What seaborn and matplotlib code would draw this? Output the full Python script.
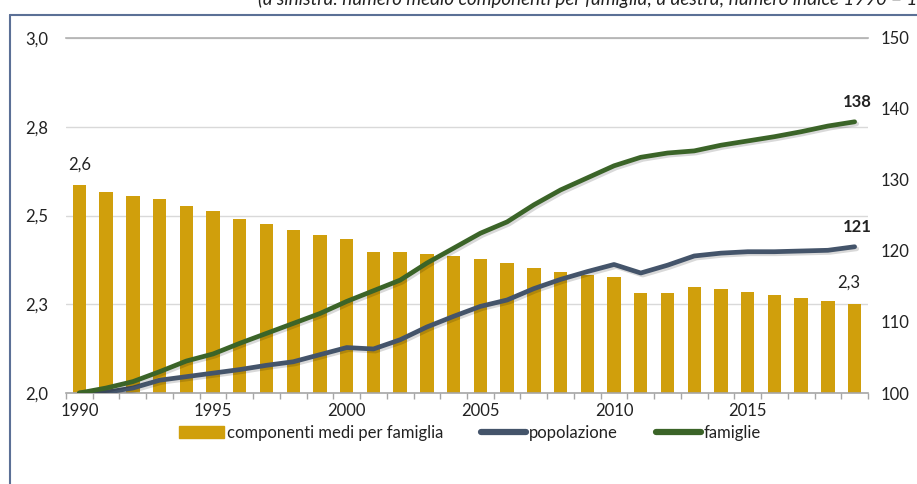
import matplotlib
matplotlib.use("Agg")
import matplotlib.pyplot as plt
import matplotlib.lines as mlines
import matplotlib.patches as mpatches
import matplotlib.patheffects as pe
import seaborn as sns
import numpy as np
import pandas as pd

years = list(range(1990, 2020))
componenti = [2.586, 2.565, 2.555, 2.546, 2.526, 2.512, 2.491, 2.476, 2.459, 2.446,
              2.434, 2.398, 2.396, 2.392, 2.385, 2.377, 2.365, 2.351, 2.342, 2.332,
              2.328, 2.281, 2.281, 2.300, 2.294, 2.285, 2.276, 2.268, 2.258, 2.252]
popolazione = [100.0, 100.1, 100.7, 101.8, 102.3, 102.8, 103.3, 103.9, 104.4, 105.4,
               106.4, 106.2, 107.5, 109.3, 110.8, 112.2, 113.1, 114.7, 116.0, 117.1,
               118.1, 116.9, 118.0, 119.3, 119.7, 119.9, 119.9, 120.0, 120.1, 120.6]
famiglie = [100.0, 100.7, 101.6, 103.0, 104.5, 105.5, 107.0, 108.4, 109.8, 111.2,
            112.9, 114.4, 115.9, 118.3, 120.4, 122.5, 124.1, 126.5, 128.6, 130.3,
            132.0, 133.2, 133.8, 134.1, 134.9, 135.5, 136.1, 136.8, 137.6, 138.2]
left_ticks = [2.0, 2.25, 2.5, 2.75, 3.0]
left_labels = ["2,0", "2,3", "2,5", "2,8", "3,0"]
right_ticks = [100, 110, 120, 130, 140, 150]
x_label_years = [1990, 1995, 2000, 2005, 2010, 2015]
label_first_bar = "2,6"
label_last_bar = "2,3"
label_fam = "138"
label_pop = "121"

C_BAR = "#D09F0C"
C_POP = "#44546A"
C_FAM = "#3B6428"
FONT = ["Lato", "DejaVu Sans"]
FS = 12

sns.set_theme(style="white")
plt.rcParams["font.family"] = FONT
plt.rcParams["text.color"] = "#222222"

df = pd.DataFrame({"anno": years, "componenti": componenti,
                   "popolazione": popolazione, "famiglie": famiglie})

fig = plt.figure(figsize=(9.17, 4.84), dpi=100)
ax = fig.add_axes([66/917, 1-393/484, (868-66)/917, (393-38)/484])

sns.barplot(data=df, x="anno", y="componenti", native_scale=True, color=C_BAR,
            saturation=1, width=0.5, ax=ax, linewidth=0)
ax.set_xlim(1989.5, 2019.5)
ax.set_ylim(2.0, 3.0)
ax.set_yticks(left_ticks)
ax.set_yticklabels(left_labels)
ax.yaxis.grid(True, color="#D9D9D9", linewidth=1.0)
ax.set_axisbelow(True)
ax.set_xticks(x_label_years)
ax.set_xticklabels([str(y) for y in x_label_years])
ax.set_xticks(np.arange(1989.5, 2020.0, 1.0), minor=True)
ax.tick_params(axis="x", which="major", length=0, pad=7, labelsize=FS, colors="#222222")
ax.tick_params(axis="x", which="minor", length=4, width=1, color="#A6A6A6", bottom=True)
ax.tick_params(axis="y", length=0, pad=13, labelsize=FS, colors="#222222")
ax.set_xlabel("")
ax.set_ylabel("")
for s in ["left", "right"]:
    ax.spines[s].set_visible(False)
ax.spines["top"].set_color("#B0B0B0")
ax.spines["top"].set_linewidth(1.2)
ax.spines["bottom"].set_color("#A6A6A6")
ax.spines["bottom"].set_linewidth(1.2)

ax2 = ax.twinx()
shadow = [pe.SimpleLineShadow(offset=(1.5, -1.5), alpha=0.15, shadow_color="black"), pe.Normal()]
sns.lineplot(data=df, x="anno", y="popolazione", color=C_POP, linewidth=3.4, ax=ax2,
             solid_capstyle="round", path_effects=shadow)
sns.lineplot(data=df, x="anno", y="famiglie", color=C_FAM, linewidth=3.4, ax=ax2,
             solid_capstyle="round", path_effects=shadow)
ax2.set_ylim(100, 150)
ax2.set_yticks(right_ticks)
ax2.tick_params(axis="y", length=0, pad=9, labelsize=FS, colors="#222222")
ax2.set_ylabel("")
ax2.set_xlim(1989.5, 2019.5)
for s in ["left", "right", "top", "bottom"]:
    ax2.spines[s].set_visible(False)

# annotations
ax.text(years[0] - 0.4, componenti[0] + 0.035, label_first_bar, fontsize=FS, ha="left", va="bottom")
ax.text(years[-1] + 0.2, componenti[-1] + 0.035, label_last_bar, fontsize=FS, ha="right", va="bottom")
ax2.text(years[-1] + 0.1, famiglie[-1] + 1.6, label_fam, fontsize=FS,
         fontweight="bold", ha="center", va="bottom")
ax2.text(years[-1] + 0.1, popolazione[-1] + 1.6, label_pop, fontsize=FS,
         fontweight="bold", ha="center", va="bottom")

# legend
h_bar = mpatches.Patch(color=C_BAR, label="componenti medi per famiglia")
h_pop = mlines.Line2D([], [], color=C_POP, linewidth=4.5, label="popolazione")
h_fam = mlines.Line2D([], [], color=C_FAM, linewidth=4.5, label="famiglie")
fig.legend(handles=[h_bar, h_pop, h_fam], loc="center", bbox_to_anchor=(470/917, 1-433/484),
           ncol=3, frameon=False, fontsize=FS, handlelength=2.7, handleheight=0.75,
           handletextpad=0.15, columnspacing=2.3)

# frame and clipped subtitle
fig.add_artist(mlines.Line2D([10/917, 1.0], [1-15/484, 1-15/484], color="#5B7096",
                             linewidth=1.5, transform=fig.transFigure))
fig.add_artist(mlines.Line2D([10/917, 10/917], [0, 1-15/484], color="#5B7096",
                             linewidth=1.5, transform=fig.transFigure))
fig.text(258/917, 1 + 1/484, "(a sinistra: numero medio componenti per famiglia; a destra; numero indice 1990 = 100)",
         fontsize=13.5, style="italic", ha="left", va="center", color="#222222")

fig.savefig("out.png", dpi=100)
